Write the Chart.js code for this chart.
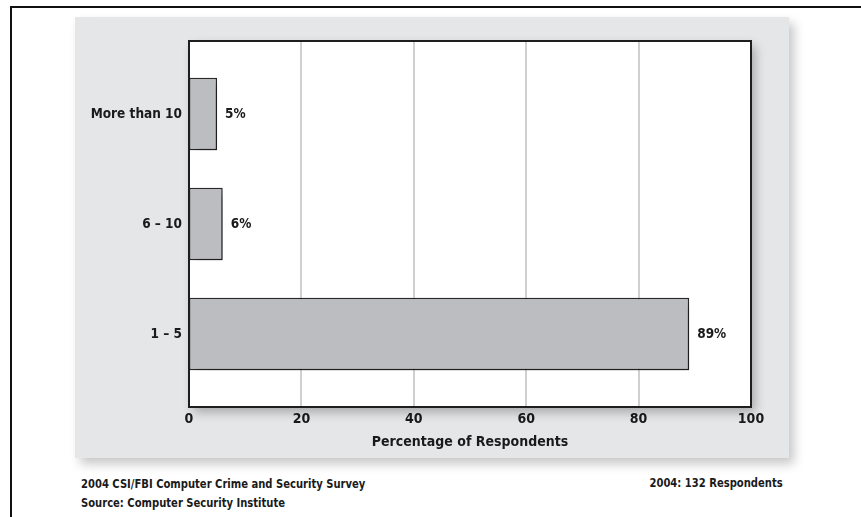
<!DOCTYPE html>
<html>
<head>
<meta charset="utf-8">
<script src="https://cdn.jsdelivr.net/npm/chart.js@4/dist/chart.umd.min.js"></script>
<style>
  html, body { margin: 0; padding: 0; background: #fff; }
  body { width: 861px; height: 517px; position: relative; overflow: hidden;
         font-family: 'DejaVu Sans Condensed', 'DejaVu Sans', sans-serif; }
  .frame { position: absolute; left: 10px; top: 6px; width: 900px; height: 600px;
           border-top: 2px solid #111; border-left: 2px solid #111; }
  .panel { position: absolute; left: 75px; top: 17px; width: 714px; height: 441px;
           background: #e5e6e8; box-shadow: 5px 6px 10px rgba(0,0,0,0.22); }
  .panel canvas { position: absolute; left: 0; top: 0; }
  .note { position: absolute; font-weight: bold; font-size: 12.5px; color: #1a1a1a;
          white-space: nowrap; line-height: 19px; transform: scaleX(0.89); }
  .note.left { left: 81px; top: 474px; transform-origin: left center; }
  .note.right { right: 78px; top: 473px; transform-origin: right center; }
</style>
</head>
<body>
<div class="frame"></div>
<div class="panel"><canvas id="chart" width="714" height="441"></canvas></div>
<div class="note left">2004 CSI/FBI Computer Crime and Security Survey<br>Source: Computer Security Institute</div>
<div class="note right">2004: 132 Respondents</div>
<script>
// Number of incidents reported, share of respondents
const categories = ['More than 10', '6 – 10', '1 – 5'];
const percentages = [5, 6, 89];
const xTicks = [0, 20, 40, 60, 80, 100];

const FONT = "'DejaVu Sans Condensed', 'DejaVu Sans', sans-serif";
const INK = '#1a1a1a';
const BOX_EXTRA = 18; // frame reaches a little past the category band

// White plot frame with its soft shadow, plus the vertical grid lines
const framePlugin = {
  id: 'frame',
  beforeDatasetsDraw(chart) {
    const { ctx, chartArea: a, scales } = chart;
    const top = a.top - BOX_EXTRA, bottom = a.bottom + BOX_EXTRA;
    ctx.save();
    ctx.shadowColor = 'rgba(0,0,0,0.28)';
    ctx.shadowBlur = 10;
    ctx.shadowOffsetX = 4;
    ctx.shadowOffsetY = 5;
    ctx.fillStyle = '#ffffff';
    ctx.fillRect(a.left, top, a.right - a.left, bottom - top);
    ctx.restore();

    ctx.save();
    ctx.strokeStyle = '#cfd0d2';
    ctx.lineWidth = 2;
    xTicks.slice(1, -1).forEach(v => {
      const x = Math.round(scales.x.getPixelForValue(v));
      ctx.beginPath();
      ctx.moveTo(x, top);
      ctx.lineTo(x, bottom);
      ctx.stroke();
    });
    ctx.restore();

    // bars cast a soft shadow
    ctx.save();
    ctx.shadowColor = 'rgba(0,0,0,0.35)';
    ctx.shadowBlur = 10;
    ctx.shadowOffsetX = 5;
    ctx.shadowOffsetY = 5;
  },
  afterDatasetsDraw(chart) {
    const { ctx, chartArea: a } = chart;
    ctx.restore();
    const top = a.top - BOX_EXTRA, bottom = a.bottom + BOX_EXTRA;
    ctx.save();
    ctx.strokeStyle = '#1e1e1e';
    ctx.lineWidth = 2;
    ctx.strokeRect(a.left, top, a.right - a.left, bottom - top);
    ctx.restore();

    // value labels beside each bar
    ctx.save();
    ctx.font = 'bold 13.5px ' + FONT;
    ctx.fillStyle = INK;
    ctx.textAlign = 'left';
    ctx.textBaseline = 'middle';
    chart.getDatasetMeta(0).data.forEach((bar, i) => {
      ctx.fillText(percentages[i] + '%', bar.x + 8, bar.y);
    });
    ctx.restore();
  }
};

new Chart(document.getElementById('chart'), {
  type: 'bar',
  data: {
    labels: categories,
    datasets: [{
      data: percentages,
      backgroundColor: '#bcbdc0',
      borderColor: '#2b2b2b',
      borderWidth: 1.5,
      borderSkipped: false,
      barPercentage: 0.66,
      categoryPercentage: 1
    }]
  },
  options: {
    indexAxis: 'y',
    responsive: false,
    animation: false,
    devicePixelRatio: 1,
    layout: { padding: { left: 0, right: 38, top: 42, bottom: 0 } },
    plugins: { legend: { display: false }, tooltip: { enabled: false } },
    scales: {
      x: {
        type: 'linear',
        min: 0,
        max: 100,
        afterBuildTicks(scale) { scale.ticks = xTicks.map(v => ({ value: v })); },
        afterFit(scale) { scale.height = 69; },
        grid: { display: false, drawTicks: false },
        border: { display: false },
        ticks: { padding: 22, color: INK, font: { family: FONT, size: 14, weight: 'bold' } },
        title: {
          display: true,
          text: 'Percentage of Respondents',
          color: INK,
          padding: { top: 0, bottom: 7 },
          font: { family: FONT, size: 14, weight: 'bold' }
        }
      },
      y: {
        type: 'category',
        afterFit(scale) { scale.width = 114; },
        grid: { display: false, drawTicks: false },
        border: { display: false },
        ticks: { padding: 7, color: INK, font: { family: FONT, size: 13.5, weight: 'bold' } }
      }
    }
  },
  plugins: [framePlugin]
});
</script>
</body>
</html>
